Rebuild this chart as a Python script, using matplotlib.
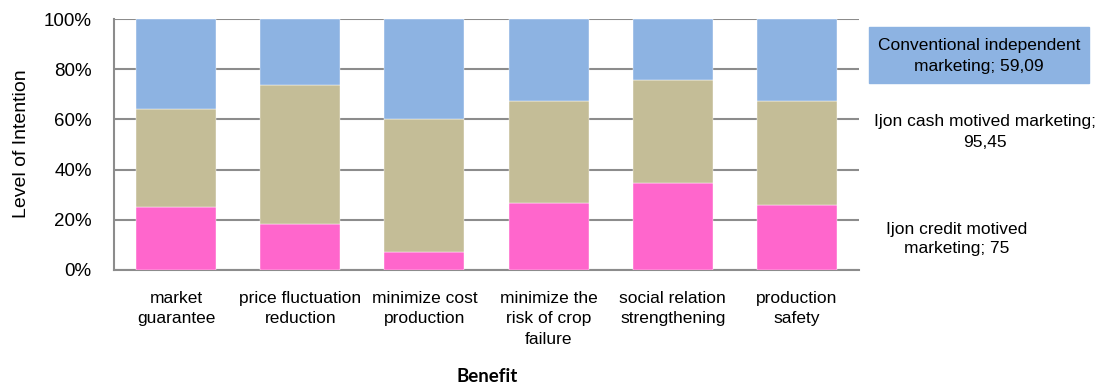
import matplotlib.pyplot as plt
import matplotlib.patches as patches
import numpy as np

plt.rcParams['font.family'] = ['Liberation Sans', 'DejaVu Sans']

# benefits on the x axis
benefits = ["market\nguarantee", "price fluctuation\nreduction", "minimize cost\nproduction",
            "minimize the\nrisk of crop\nfailure", "social relation\nstrengthening", "production\nsafety"]

# intention level of each marketing group, stacked bottom -> top
series_names = ["Conventional independent marketing", "Ijon cash motived marketing",
                "Ijon credit motived marketing"]
pink_vals = [50.00, 31.82, 11.36, 54.55, 77.27, 59.09]
tan_vals = [77.27, 95.45, 86.36, 81.82, 90.91, 95.45]
blue_vals = [70.83, 45.83, 65.00, 66.67, 54.17, 75.00]

colors = ["#FF66CC", "#C4BD97", "#8DB3E2"]

data = np.array([pink_vals, tan_vals, blue_vals])
shares = data / data.sum(axis=0)

fig = plt.figure(figsize=(11, 3.89), dpi=100)
ax = fig.add_axes([114 / 1100, 1 - 270 / 389, 745 / 1100, 251 / 389])

x = np.arange(len(benefits))
bottom = np.zeros(len(benefits))
for i in range(3):
    ax.bar(x, shares[i], 0.645, bottom=bottom, color=colors[i], edgecolor='white',
           linewidth=0.3, zorder=3)
    bottom += shares[i]

ax.set_xlim(-0.5, len(benefits) - 0.5)
ax.set_ylim(0, 1)
ticks = np.arange(0, 1.01, 0.2)
ax.set_yticks(ticks)
ax.set_yticklabels([f"{int(round(v * 100))}%" for v in ticks], fontsize=13.5)
ax.set_xticks(x)
ax.set_xticklabels(benefits, fontsize=12.5, linespacing=1.45)
ax.tick_params(axis='y', length=0, pad=16)
ax.tick_params(axis='x', length=0, pad=15)

ax.grid(axis='y', color='#8c8c8c', linewidth=1.5, zorder=0)
for s in ['top', 'right']:
    ax.spines[s].set_visible(False)
for s in ['left', 'bottom']:
    ax.spines[s].set_color('#8c8c8c')
    ax.spines[s].set_linewidth(1.5)

fig.text(22 / 1100, 1 - 144 / 389, "Level of Intention", rotation=90, ha='center', va='center',
         fontsize=14)
fig.text(487 / 1100, 1 - 377 / 389, "Benefit", ha='center', va='center', fontsize=13.5,
         fontweight='bold', family=['Lato', 'DejaVu Sans'])

def fmt(v):
    return f"{v:g}".replace('.', ',')

# series labels for the last bar, placed to the right of the plot
fig.patches.append(patches.Rectangle((869 / 1100, 1 - 83 / 389), 220 / 1100, 56 / 389,
                                     transform=fig.transFigure, color=colors[2], zorder=0))
fig.text(979 / 1100, 1 - 56 / 389, "Conventional independent\nmarketing; " + fmt(pink_vals[-1]),
         ha='center', va='center', fontsize=12.5, linespacing=1.45)
fig.text(985 / 1100, 1 - 132 / 389, series_names[1] + ";\n" + fmt(tan_vals[-1]),
         ha='center', va='center', fontsize=12.5, linespacing=1.5)
fig.text(957 / 1100, 1 - 239 / 389, "Ijon credit motived\nmarketing; " + fmt(blue_vals[-1]),
         ha='center', va='center', fontsize=12.5, linespacing=1.35)

fig.savefig("out.png", dpi=100)
